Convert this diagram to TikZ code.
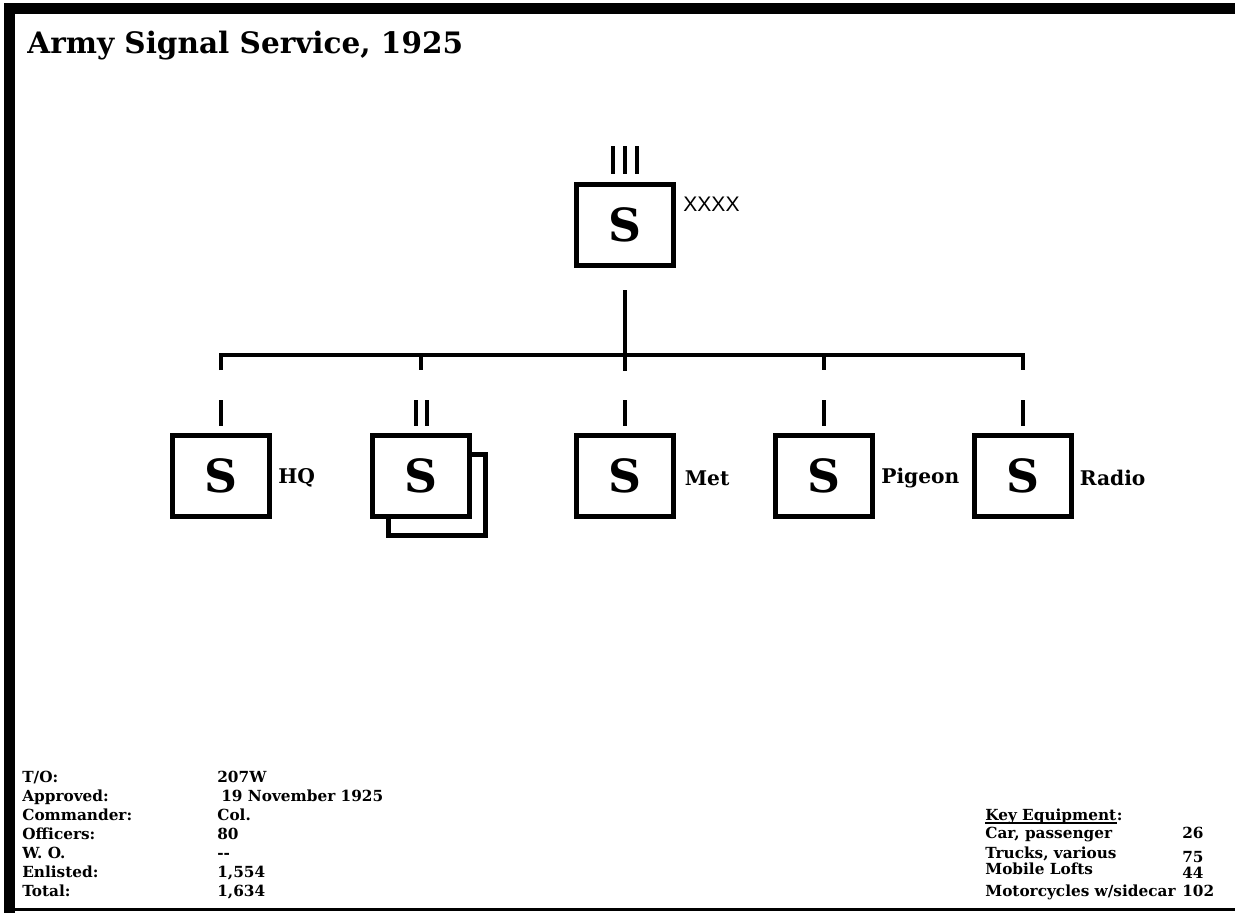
\documentclass[tikz,border=0pt]{standalone}
\usepackage{fontspec}
\setmainfont{DejaVu Serif}
\newfontfamily\sansfont{Liberation Sans}
\usetikzlibrary{positioning, calc}

\begin{document}
\begin{tikzpicture}[
    x=0.02cm, y=-0.02cm,
    unit/.style={draw, fill=white, line width=0.1cm, minimum width=1.94cm, minimum height=1.62cm, inner sep=0pt, font=\fontsize{26}{26}\selectfont\bfseries},
    conn/.style={line width=0.09cm},
    bar/.style={line width=0.08cm},
    tag/.style={inner sep=0pt, yshift=-0.04cm, font=\fontsize{11.5}{12}\selectfont\bfseries},
    info/.style={anchor=base west, inner sep=0pt, font=\fontsize{8.7}{9}\selectfont\bfseries},
]
  \useasboundingbox (0,0) rectangle (1235,913);

  % frame
  \fill (4,3) rectangle (1235,14);
  \fill (4,3) rectangle (15,913);
  \fill (15,908) rectangle (1235,911);

  \node[anchor=base west, inner sep=0pt, font=\fontsize{16.8}{18}\selectfont\bfseries] (title) at (27,53) {Army Signal Service, 1925};

  % units
  \node[unit] (sigsvc) at (625,225) {S};
  \node[unit] (hq) at (221,476) {S};
  \node[unit] (bnback) at (437,495) {};
  \node[unit] (bn) at (421,476) {S};
  \node[unit] (met) at (625,476) {S};
  \node[unit] (pigeon) at (824,476) {S};
  \node[unit] (radio) at (1023,476) {S};

  % echelon bars
  \foreach \dx in {-12,0,12}
    \draw[bar] ($(sigsvc.north)+(\dx,-8.5)$) -- ++(0,-28);
  \foreach \u in {hq,met,pigeon,radio}
    \draw[bar] ($(\u.north)+(0,-7.5)$) -- ++(0,-26);
  \foreach \dx in {-5.5,5.5}
    \draw[bar] ($(bn.north)+(\dx,-7.5)$) -- ++(0,-26);

  \node[anchor=west, inner sep=0pt, font=\sansfont\fontsize{12}{13}\selectfont] (size) at ($(sigsvc.east)+(7,-21)$) {XXXX};

  \node[tag, right=0.12cm of hq] (hqlbl) {HQ};
  \node[tag, right=0.17cm of met] (metlbl) {Met};
  \node[tag, right=0.12cm of pigeon] (pigeonlbl) {Pigeon};
  \node[tag, right=0.11cm of radio] (radiolbl) {Radio};

  % connectors
  \coordinate (bus) at (625,355);
  \draw[conn] ($(sigsvc.south)+(0,22.5)$) -- ($(met.north)+(0,-62.5)$);
  \draw[conn] ($(hq.north)+(0,-63)$) |- (bus) -| ($(radio.north)+(0,-63)$);
  \foreach \u in {bn,pigeon}
    \draw[conn] (\u.north |- bus) -- ($(\u.north)+(0,-63)$);

  % table of organization
  \node[info] (to) at (22,782) {T/O:};
  \node[info] (toval) at (217,782) {207W};
  \node[info] (appr) at (22,801) {Approved:};
  \node[info] (apprval) at (221,801) {19 November 1925};
  \node[info] (cmdr) at (22,820) {Commander:};
  \node[info] (cmdrval) at (217,820) {Col.};
  \node[info] (off) at (22,839) {Officers:};
  \node[info] (offval) at (217,839) {80};
  \node[info] (wo) at (22,858) {W. O.};
  \node[info] (woval) at (217,858) {{-}{-}};
  \node[info] (enl) at (22,877) {Enlisted:};
  \node[info] (enlval) at (217,877) {1,554};
  \node[info] (tot) at (22,896) {Total:};
  \node[info] (totval) at (217,896) {1,634};

  % key equipment
  \node[info] (keyeq) at (985,820) {Key Equipment};
  \node[info] (keycolon) at (keyeq.base east) {:};
  \draw[line width=0.05cm] ($(keyeq.base west)+(0,3)$) -- ($(keyeq.base east)+(0,3)$);
  \node[info] (car) at (985,838) {Car, passenger};
  \node[info] (carval) at (1182,838) {26};
  \node[info] (trk) at (985,858) {Trucks, various};
  \node[info] (trkval) at (1182,862) {75};
  \node[info] (loft) at (985,874) {Mobile Lofts};
  \node[info] (loftval) at (1182,878) {44};
  \node[info] (moto) at (985,896) {Motorcycles w/sidecar};
  \node[info] (motoval) at (1182,896) {102};
\end{tikzpicture}
\end{document}
